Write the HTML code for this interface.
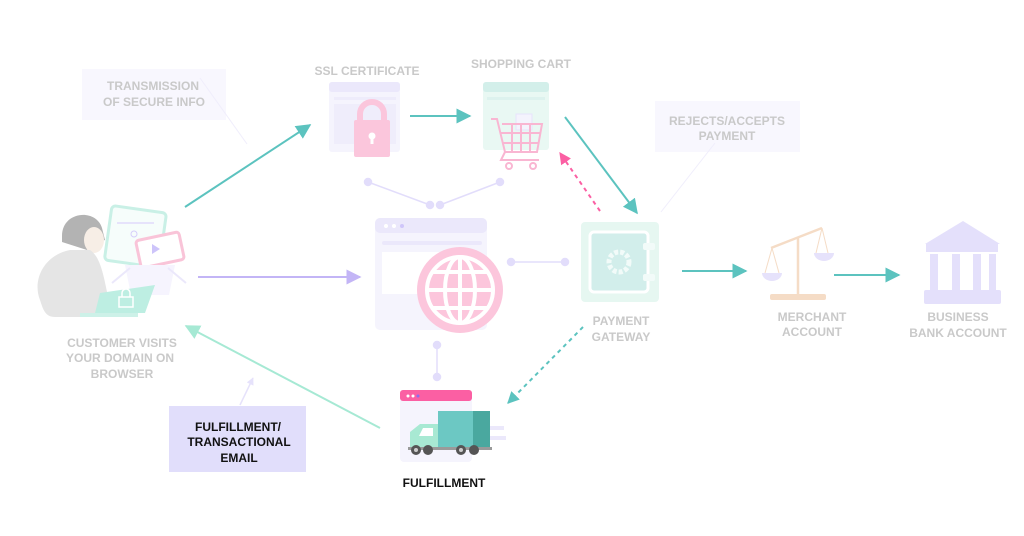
<!DOCTYPE html>
<html><head><meta charset="utf-8"><style>
html,body{margin:0;padding:0;background:#fff;}
svg{display:block;}
text{font-family:"Liberation Sans",Arial,sans-serif;font-weight:bold;font-size:12px;text-anchor:middle;}
.g{fill:#c9c9c9;}
.k{fill:#111;}
</style></head><body>
<svg width="1024" height="536" viewBox="0 0 1024 536" xmlns="http://www.w3.org/2000/svg">
<defs>
<marker id="mt" viewBox="0 0 10 10" refX="9" refY="5" markerWidth="7.5" markerHeight="7.5" orient="auto"><path d="M0,0L10,5L0,10z" fill="#5cc3bf"/></marker>
<marker id="mp" viewBox="0 0 10 10" refX="9" refY="5" markerWidth="7.5" markerHeight="7.5" orient="auto"><path d="M0,0L10,5L0,10z" fill="#c3b5f6"/></marker>
<marker id="mg" viewBox="0 0 10 10" refX="9" refY="5" markerWidth="7.5" markerHeight="7.5" orient="auto"><path d="M0,0L10,5L0,10z" fill="#a6e9d4"/></marker>
<marker id="mk" viewBox="0 0 10 10" refX="9" refY="5" markerWidth="6" markerHeight="6" orient="auto"><path d="M0,0L10,5L0,10z" fill="#fb5fa3"/></marker>
<marker id="md" viewBox="0 0 10 10" refX="9" refY="5" markerWidth="6" markerHeight="6" orient="auto"><path d="M0,0L10,5L0,10z" fill="#5cc3bf"/></marker>
<marker id="ml" viewBox="0 0 10 10" refX="9" refY="5" markerWidth="5" markerHeight="5" orient="auto"><path d="M0,0L10,5L0,10z" fill="#e6e2fb"/></marker>
</defs>

<rect x="82" y="69" width="144" height="51" fill="#f8f7fe"/>
<text class="g" x="153" y="90">TRANSMISSION</text>
<text class="g" x="154" y="106">OF SECURE INFO</text>
<line x1="200" y1="78" x2="247" y2="144" stroke="#f0eefc" stroke-width="1"/>

<rect x="655" y="101" width="145" height="51" fill="#f8f7fe"/>
<text class="g" x="727" y="125">REJECTS/ACCEPTS</text>
<text class="g" x="727" y="140">PAYMENT</text>
<line x1="715" y1="143" x2="661" y2="212" stroke="#f0eefc" stroke-width="1"/>

<text class="g" x="367" y="75">SSL CERTIFICATE</text>
<rect x="329" y="82" width="71" height="70" rx="3" fill="#f5f4fd"/>
<rect x="329" y="82" width="71" height="10" rx="3" fill="#ebe8fb"/>
<rect x="334" y="97" width="62" height="3" fill="#eeecfb"/>
<rect x="334" y="104" width="62" height="40" fill="#efedfb"/>
<path d="M360,122 v-8 a12,12 0 0 1 24,0 v8" fill="none" stroke="#fbc6dc" stroke-width="6"/>
<rect x="354" y="120" width="36" height="37" rx="2" fill="#fbc6dc"/>
<circle cx="372" cy="136" r="3.5" fill="#fff"/><rect x="370.5" y="137" width="3" height="7" fill="#fff"/>

<text class="g" x="521" y="68">SHOPPING CART</text>
<rect x="483" y="82" width="66" height="68" rx="3" fill="#e9f8f3"/>
<rect x="483" y="82" width="66" height="10" rx="3" fill="#d3efea"/>
<rect x="487" y="97" width="58" height="3" fill="#ddf2ee"/>
<rect x="516" y="114" width="16" height="16" fill="#f4f3fd" stroke="#e6e3fb"/>
<g fill="none" stroke="#f9b6d2" stroke-width="2">
<path d="M491,119 h6 l8,33 h32 l5,-28 h-40"/>
<path d="M500,133 h40 M503,143 h35 M512,124 v28 M521,124 v28 M530,124 v28"/>
<path d="M505,152 l-4,8 h38"/>
<circle cx="509" cy="166" r="3"/><circle cx="533" cy="166" r="3"/>
</g>

<line x1="185" y1="207" x2="310" y2="125" stroke="#5cc3bf" stroke-width="2" marker-end="url(#mt)"/>
<line x1="410" y1="116" x2="470" y2="116" stroke="#5cc3bf" stroke-width="2" marker-end="url(#mt)"/>
<line x1="565" y1="117" x2="637" y2="213" stroke="#5cc3bf" stroke-width="2" marker-end="url(#mt)"/>
<line x1="600" y1="211" x2="560" y2="153" stroke="#fb5fa3" stroke-width="2" stroke-dasharray="4,4" marker-end="url(#mk)"/>

<g stroke="#e2ddfb" stroke-width="1.5" fill="#e2ddfb">
<line x1="368" y1="182" x2="430" y2="205"/><line x1="440" y1="205" x2="500" y2="182"/>
<circle cx="368" cy="182" r="3.5"/><circle cx="430" cy="205" r="3.5"/><circle cx="440" cy="205" r="3.5"/><circle cx="500" cy="182" r="3.5"/>
<line x1="511" y1="262" x2="565" y2="262"/><circle cx="511" cy="262" r="3.5"/><circle cx="565" cy="262" r="3.5"/>
<line x1="437" y1="345" x2="437" y2="377"/><circle cx="437" cy="345" r="3.5"/><circle cx="437" cy="377" r="3.5"/>
</g>

<rect x="375" y="218" width="112" height="112" rx="5" fill="#f5f4fd"/>
<rect x="375" y="218" width="112" height="15" rx="5" fill="#ebe8fb"/>
<circle cx="386" cy="226" r="2" fill="#fff"/><circle cx="394" cy="226" r="2" fill="#fff"/><circle cx="402" cy="226" r="2" fill="#cfc6fa"/>
<rect x="382" y="241" width="100" height="4" rx="2" fill="#ebe8fb"/>
<rect x="382" y="252" width="80" height="42" fill="#fff"/>
<circle cx="460" cy="290" r="43" fill="#fcc6dc"/>
<g fill="none" stroke="#fff" stroke-width="4">
<circle cx="460" cy="290" r="33"/>
<ellipse cx="460" cy="290" rx="15" ry="33"/>
<line x1="460" y1="257" x2="460" y2="323"/><line x1="427" y1="290" x2="493" y2="290"/>
<path d="M433,272 h54 M433,308 h54"/>
</g>

<g>
<rect x="108" y="209" width="55" height="55" rx="4" fill="#f6fdfb" stroke="#c9f0e6" stroke-width="3" transform="rotate(8 135 236)"/>
<rect x="117" y="222" width="37" height="2" fill="#e6e3fb"/>
<circle cx="134" cy="234" r="3" fill="none" stroke="#d5cdfa"/>
<rect x="138" y="236" width="44" height="28" rx="3" fill="#fff" stroke="#f9c4d8" stroke-width="3" transform="rotate(-12 160 250)"/>
<path d="M152,244 l8,5 -8,5z" fill="#cdc4fa"/>
<path d="M125,265 h50 l-6,30 h-38z" fill="#f6f4fe"/>
<path d="M112,283 l18,-15 M168,268 l18,15" stroke="#ebe8fb" stroke-width="2"/>
<path d="M62,236 c0,-25 34,-28 40,-8 l3,12 c-8,2 -18,10 -18,10 l-25,-8 z" fill="#b3b3b3"/>
<ellipse cx="94" cy="240" rx="10" ry="13" fill="#f7eee6"/>
<path d="M40,300 c-8,-20 4,-45 30,-50 l20,0 c12,8 14,30 20,55 l5,12 h-60 c-10,0 -12,-8 -15,-17z" fill="#e5e5e5"/>
<path d="M100,293 l55,-8 l-10,28 h-50z" fill="#bdeee2"/>
<rect x="80" y="313" width="58" height="4" fill="#cdf1e8"/>
<path d="M122,297 v-4 a4,4 0 0 1 8,0 v4 M119,297 h14 v10 h-14z" fill="none" stroke="#fff" stroke-width="1.5"/>
</g>
<text class="g" x="122" y="347">CUSTOMER VISITS</text>
<text class="g" x="120" y="362">YOUR DOMAIN ON</text>
<text class="g" x="122" y="378">BROWSER</text>

<line x1="198" y1="277" x2="360" y2="277" stroke="#c3b5f6" stroke-width="2" marker-end="url(#mp)"/>
<line x1="380" y1="428" x2="186" y2="326" stroke="#a6e9d4" stroke-width="2" marker-end="url(#mg)"/>
<line x1="240" y1="405" x2="253" y2="378" stroke="#e6e2fb" stroke-width="1.5" marker-end="url(#ml)"/>
<line x1="583" y1="327" x2="508" y2="403" stroke="#5cc3bf" stroke-width="2" stroke-dasharray="4,4" marker-end="url(#md)"/>

<rect x="169" y="406" width="137" height="66" fill="#e1defb"/>
<text class="k" x="238" y="431">FULFILLMENT/</text>
<text class="k" x="239" y="446">TRANSACTIONAL</text>
<text class="k" x="239" y="462">EMAIL</text>

<rect x="400" y="390" width="72" height="72" rx="4" fill="#f5f4fd"/>
<rect x="400" y="390" width="72" height="11" rx="3" fill="#fb5fa3"/>
<circle cx="408" cy="396" r="1.5" fill="#fff"/><circle cx="413" cy="396" r="1.5" fill="#fff"/><circle cx="418" cy="396" r="1.5" fill="#8a6cf0"/>
<rect x="480" y="426" width="24" height="4" fill="#ebe8fb"/><rect x="484" y="436" width="22" height="4" fill="#ebe8fb"/>
<rect x="438" y="411" width="52" height="38" fill="#6cc8c3"/>
<rect x="473" y="411" width="17" height="38" fill="#4aa89f"/>
<path d="M410,448 v-16 l10,-8 h18 v24z" fill="#a8e9d3"/>
<path d="M423,428 h10 v8 h-14z" fill="#fff"/>
<rect x="408" y="447" width="84" height="3" fill="#9a9a9a"/>
<circle cx="416" cy="450" r="5" fill="#555"/><circle cx="416" cy="450" r="2" fill="#ccc"/>
<circle cx="428" cy="450" r="5" fill="#555"/>
<circle cx="461" cy="450" r="5" fill="#555"/><circle cx="461" cy="450" r="2" fill="#ccc"/>
<circle cx="474" cy="450" r="5" fill="#555"/>
<text class="k" x="444" y="487">FULFILLMENT</text>

<rect x="581" y="222" width="78" height="80" rx="4" fill="#e6f7f1"/>
<rect x="590" y="232" width="58" height="60" rx="4" fill="#d2eeeb" stroke="#fff" stroke-width="3"/>
<circle cx="619" cy="262" r="10" fill="none" stroke="#f2fbf9" stroke-width="5" stroke-dasharray="4,2"/>
<rect x="643" y="243" width="12" height="7" rx="2" fill="#f2fbf9"/><rect x="643" y="274" width="12" height="7" rx="2" fill="#f2fbf9"/>
<text class="g" x="621" y="325">PAYMENT</text>
<text class="g" x="621" y="341">GATEWAY</text>

<line x1="682" y1="271" x2="746" y2="271" stroke="#5cc3bf" stroke-width="2" marker-end="url(#mt)"/>

<g stroke="#f5dcc6" stroke-width="2.5" fill="none">
<line x1="771" y1="248" x2="822" y2="228"/>
<line x1="798" y1="237" x2="798" y2="296"/>
<path d="M772,248 l-7,25 M772,248 l7,25 M822,228 l-6,25 M822,228 l6,25" stroke-width="1"/>
</g>
<rect x="770" y="294" width="56" height="6" rx="2" fill="#f5dcc6"/>
<path d="M762,273 h20 a10,8 0 0 1 -20,0z" fill="#e6e2fb"/>
<path d="M814,253 h20 a10,8 0 0 1 -20,0z" fill="#e6e2fb"/>
<text class="g" x="812" y="321">MERCHANT</text>
<text class="g" x="812" y="336">ACCOUNT</text>

<line x1="834" y1="275" x2="899" y2="275" stroke="#5cc3bf" stroke-width="2" marker-end="url(#mt)"/>

<path d="M925,244 l38,-23 l37,23z" fill="#e4e0fb"/>
<rect x="926" y="244" width="72" height="8" fill="#e4e0fb"/>
<rect x="930" y="254" width="8" height="36" fill="#e4e0fb"/><rect x="952" y="254" width="8" height="36" fill="#e4e0fb"/><rect x="973" y="254" width="8" height="36" fill="#e4e0fb"/><rect x="989" y="254" width="7" height="36" fill="#e4e0fb"/>
<rect x="924" y="290" width="77" height="14" rx="2" fill="#e4e0fb"/>
<text class="g" x="958" y="321">BUSINESS</text>
<text class="g" x="958" y="337">BANK ACCOUNT</text>
</svg>
</body></html>
